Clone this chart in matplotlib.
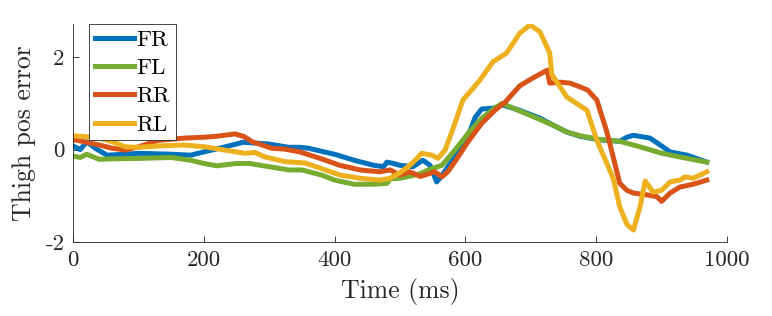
import numpy as np
import matplotlib.pyplot as plt

# values
fr_t = [0, 11, 21, 35, 52, 80, 100, 150, 180, 200, 230, 260, 280, 300, 330, 347, 360,
        378, 400, 430, 460, 475, 480, 490, 500, 520, 535, 546, 556, 561, 569, 580, 600,
        615, 625, 645, 656, 683, 714, 734, 755, 775, 806, 836, 847, 857, 882, 898, 913,
        939, 969]
fr_v = [0.08, 0.0, 0.17, 0.02, -0.12, -0.1, -0.08, -0.1, -0.12, -0.05, 0.05, 0.16, 0.14,
        0.12, 0.05, 0.05, 0.03, -0.03, -0.1, -0.23, -0.34, -0.37, -0.27, -0.3, -0.34,
        -0.37, -0.23, -0.34, -0.7, -0.62, -0.46, -0.23, 0.14, 0.7, 0.88, 0.9, 0.97, 0.85,
        0.68, 0.53, 0.38, 0.29, 0.21, 0.18, 0.27, 0.31, 0.25, 0.1, -0.05, -0.12, -0.27]

fl_t = [0, 11, 21, 40, 60, 100, 150, 180, 200, 220, 250, 270, 300, 330, 350, 380, 400,
        430, 460, 480, 485, 500, 520, 531, 543, 564, 584, 604, 625, 645, 656, 676, 706,
        734, 755, 775, 806, 836, 867, 898, 928, 969]
fl_v = [-0.14, -0.17, -0.1, -0.21, -0.2, -0.19, -0.17, -0.23, -0.3, -0.35, -0.3, -0.3,
        -0.37, -0.44, -0.44, -0.55, -0.66, -0.75, -0.75, -0.73, -0.63, -0.62, -0.56,
        -0.52, -0.44, -0.34, -0.01, 0.35, 0.68, 0.9, 1.0, 0.88, 0.7, 0.53, 0.38, 0.3,
        0.22, 0.18, 0.06, -0.07, -0.16, -0.27]

rr_t = [0, 20, 40, 60, 80, 100, 130, 171, 202, 220, 248, 262, 274, 304, 324, 347, 378,
        408, 439, 469, 485, 500, 515, 531, 538, 553, 564, 573, 584, 604, 625, 645, 661,
        683, 703, 725, 729, 745, 760, 775, 787, 801, 816, 826, 836, 847, 857, 878, 893,
        900, 913, 928, 948, 969]
rr_v = [0.22, 0.16, 0.1, 0.03, -0.01, 0.06, 0.2, 0.25, 0.27, 0.29, 0.34, 0.28, 0.17,
        0.03, 0.01, -0.05, -0.19, -0.34, -0.44, -0.48, -0.44, -0.55, -0.48, -0.58,
        -0.55, -0.48, -0.59, -0.48, -0.26, 0.17, 0.57, 0.85, 1.03, 1.38, 1.55, 1.72,
        1.44, 1.46, 1.44, 1.36, 1.29, 1.07, 0.4, -0.16, -0.73, -0.88, -0.94, -0.98,
        -1.02, -1.12, -0.94, -0.81, -0.75, -0.66]

rl_t = [0, 20, 40, 60, 80, 100, 130, 171, 202, 232, 263, 278, 294, 324, 355, 378, 408,
        439, 469, 485, 500, 515, 526, 533, 549, 558, 569, 584, 596, 622, 642, 663, 683,
        699, 714, 729, 732, 755, 786, 801, 816, 826, 836, 847, 857, 867, 875, 887, 900,
        913, 928, 936, 948, 959, 969]
rl_v = [0.3, 0.28, 0.25, 0.17, 0.06, 0.05, 0.08, 0.1, 0.06, -0.01, -0.08, -0.06, -0.16,
        -0.26, -0.29, -0.4, -0.55, -0.62, -0.66, -0.62, -0.5, -0.34, -0.19, -0.08,
        -0.12, -0.19, -0.01, 0.57, 1.07, 1.5, 1.9, 2.09, 2.52, 2.7, 2.55, 2.09, 1.63,
        1.14, 0.85, 0.2, -0.29, -0.62, -1.24, -1.62, -1.74, -1.24, -0.68, -0.92, -0.88,
        -0.7, -0.66, -0.59, -0.62, -0.55, -0.48]

labels = ["FR", "FL", "RR", "RL"]
colors = ["#0072BD", "#77AC30", "#D95319", "#EDB120"]

plt.rcParams['font.family'] = 'cmr10'
plt.rcParams['axes.formatter.use_mathtext'] = True

fig = plt.figure(figsize=(7.72, 3.16), dpi=100)
ax = fig.add_axes([73 / 772, 74 / 316, 654 / 772, 218 / 316])

series = [(fr_t, fr_v), (fl_t, fl_v), (rr_t, rr_v), (rl_t, rl_v)]
for (t, v), lab, c in zip(series, labels, colors):
    ax.plot(t, v, color=c, lw=3.6, label=lab, solid_joinstyle='round')

ax.set_xlim(0, 1000)
ax.set_ylim(-2, 2.72)
ax.set_xticks([0, 200, 400, 600, 800, 1000], labels=["0", "200", "400", "600", "800", "1000"])
ax.set_yticks([-2, 0, 2], labels=["-2", "0", "2"])
ax.tick_params(direction='in', length=4.5, width=0.6, colors='#262626', labelsize=16.5, pad=6)
for s in ['top', 'right']:
    ax.spines[s].set_visible(False)
for s in ['left', 'bottom']:
    ax.spines[s].set_color('#262626')
    ax.spines[s].set_linewidth(0.6)

ax.set_xlabel("Time (ms)", fontsize=18.5, color='#262626', labelpad=6)
ax.set_ylabel("Thigh pos error", fontsize=18.5, color='#262626', labelpad=7)

leg = ax.legend(loc='upper left', bbox_to_anchor=(0.0245, 1.0), borderaxespad=0,
                fontsize=16.5, fancybox=False, framealpha=1, edgecolor='#262626',
                handlelength=1.7, handletextpad=0.12, labelspacing=0.36,
                borderpad=0.25)
leg.get_frame().set_linewidth(0.6)

fig.savefig("out.png", dpi=100)
